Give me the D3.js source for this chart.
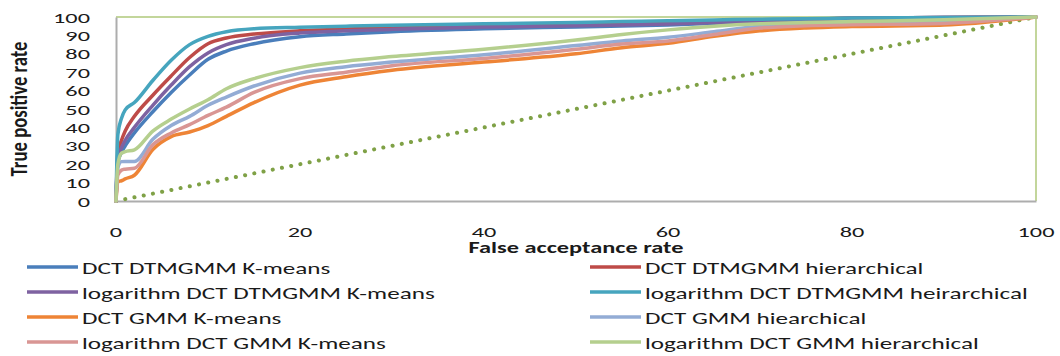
<!DOCTYPE html>
<html>
<head>
<meta charset="utf-8">
<script src="https://cdn.jsdelivr.net/npm/d3@7"></script>
<style>
  html, body { margin: 0; padding: 0; background: #ffffff; }
  svg { display: block; }
  text { font-family: Carlito, Calibri, Lato, "Liberation Sans", sans-serif; fill: #1a1a1a; }
</style>
</head>
<body>
<div id="chart"></div>
<script>
// ---------------- data ----------------
const falseAcceptance = [0, 0.2, 0.6, 1, 2, 4, 6, 8, 10, 12, 15, 20, 25, 30, 40, 50, 55, 60, 65, 70, 75, 80, 90, 100];

const dctDtmgmmKmeans      = [0, 21, 26.5, 30, 37, 48.5, 59, 68.5, 77, 81.5, 85.5, 89.3, 90.8, 92, 93.6, 94.6, 95.1, 95.7, 96.6, 97.7, 98.7, 99.3, 99.7, 100];
const dctDtmgmmHier        = [0, 26, 33, 38, 46, 57.5, 68, 78, 85.5, 88.6, 90.7, 92.5, 93.5, 94.2, 95.3, 96.1, 96.5, 97, 97.6, 98.2, 98.8, 99.3, 99.7, 100];
const logDctDtmgmmKmeans   = [0, 23, 29, 33, 40, 52, 63, 73, 80.5, 85, 88.5, 91.3, 92.5, 93.3, 94.5, 95.3, 95.7, 96.2, 97, 98, 98.8, 99.3, 99.7, 100];
const logDctDtmgmmHeir     = [0, 36, 45, 49.5, 53.5, 65.5, 76.5, 85, 89.5, 92, 93.6, 94.4, 95, 95.5, 96.3, 97, 97.5, 98, 98.4, 98.8, 99.1, 99.4, 99.7, 100];
const dctGmmKmeans         = [0, 10.5, 11, 12, 14, 28, 35, 37.5, 41, 46, 53.5, 63, 67.5, 71, 75.5, 80, 83.3, 85.7, 89.5, 92.5, 94, 94.8, 95.6, 100];
const dctGmmHier           = [0, 18, 21.4, 21.5, 21.5, 33.5, 41, 46, 52, 56.5, 62.5, 69.5, 73, 75.5, 79.5, 84.5, 87, 89, 92, 95, 96, 96.5, 97.5, 100];
const logDctGmmKmeans      = [0, 14, 16.8, 17.3, 17.8, 30.5, 37, 41.5, 46.5, 51, 59, 66.5, 70, 73.5, 77.5, 82.5, 85.3, 87, 90.5, 94, 95.3, 95.8, 96.5, 100];
const logDctGmmHier        = [0, 20, 26, 26.8, 27.8, 38, 44.5, 50, 55, 61, 66.5, 72.5, 76, 78.5, 82.5, 87.5, 90.5, 93, 95, 96.3, 97, 97.5, 98.5, 100];

const seriesNames = [
  "DCT DTMGMM K-means",
  "DCT DTMGMM hierarchical",
  "logarithm DCT DTMGMM K-means",
  "logarithm DCT DTMGMM heirarchical",
  "DCT GMM K-means",
  "DCT GMM hiearchical",
  "logarithm DCT GMM K-means",
  "logarithm DCT GMM hierarchical"
];
const seriesValues = [
  dctDtmgmmKmeans, dctDtmgmmHier, logDctDtmgmmKmeans, logDctDtmgmmHeir,
  dctGmmKmeans, dctGmmHier, logDctGmmKmeans, logDctGmmHier
];
const seriesColors = ["#4A7EBB", "#BE4B48", "#7E62A1", "#46A5BE", "#EE8436", "#93ACD5", "#D99694", "#B5CF8E"];

const chanceX = [0, 100];
const chanceY = [0, 100];

const xTicks = [0, 20, 40, 60, 80, 100];
const yTicks = [0, 10, 20, 30, 40, 50, 60, 70, 80, 90, 100];
const xTitle = "False acceptance rate";
const yTitle = "True positive rate";

// ---------------- layout ----------------
const W = 1060, H = 356;
const plot = { left: 116, right: 1036, top: 17, bottom: 201 };

const svg = d3.select("#chart").append("svg")
  .attr("width", W).attr("height", H)
  .attr("viewBox", `0 0 ${W} ${H}`);

svg.append("rect").attr("width", W).attr("height", H).attr("fill", "#ffffff");

const x = d3.scaleLinear().domain([0, 100]).range([plot.left, plot.right]);
const y = d3.scaleLinear().domain([0, 100]).range([plot.bottom, plot.top]);

function measure(str, size, weight) {
  const t = svg.append("text").attr("font-size", size).attr("font-weight", weight || "normal").text(str);
  const w = t.node().getComputedTextLength();
  t.remove();
  return w;
}

const tickSize = 15;
const tickSx = 37 / measure("100", tickSize);
const legendSize = 17;
const legendSx = 353 / measure("logarithm DCT DTMGMM K-means", legendSize);

// plot frame (top/right light green)
svg.append("path")
  .attr("d", `M${plot.left},${plot.top}H${plot.right}V${plot.bottom}`)
  .attr("fill", "none").attr("stroke", "#C3D69B").attr("stroke-width", 2);

// axes (left/bottom gray)
const xAxis = d3.axisBottom(x).tickValues(xTicks).tickSize(0).tickFormat("");
const yAxis = d3.axisLeft(y).tickValues(yTicks).tickSize(0).tickFormat("");
svg.append("g").attr("transform", `translate(0,${plot.bottom})`).call(xAxis)
  .call(g => g.select(".domain").attr("stroke", "#ADADAD").attr("stroke-width", 2));
svg.append("g").attr("transform", `translate(${plot.left},0)`).call(yAxis)
  .call(g => g.select(".domain").attr("stroke", "#ADADAD").attr("stroke-width", 2));

// tick labels
const xLab = svg.append("g");
xTicks.forEach(v => {
  xLab.append("text")
    .attr("transform", `translate(${x(v)},${237}) scale(${tickSx},1)`)
    .attr("text-anchor", "middle").attr("font-size", tickSize).text(v);
});
const yLab = svg.append("g");
yTicks.forEach(v => {
  yLab.append("text")
    .attr("transform", `translate(90,${y(v) + 5.5}) scale(${tickSx},1)`)
    .attr("text-anchor", "end").attr("font-size", tickSize).text(v);
});

// axis titles
svg.append("text")
  .attr("transform", `translate(${(plot.left + plot.right) / 2},253) scale(${tickSx},1)`)
  .attr("text-anchor", "middle").attr("font-size", 15).attr("font-weight", "bold").text(xTitle);

const yTitleLen = measure(yTitle, 15, "bold");
svg.append("text")
  .attr("transform", `translate(26.5,${(plot.top + plot.bottom) / 2}) rotate(-90) scale(${135 / yTitleLen},${tickSx})`)
  .attr("text-anchor", "middle").attr("font-size", 15).attr("font-weight", "bold").text(yTitle);

// chance diagonal
const chance = chanceX.map((v, i) => [v, chanceY[i]]);
svg.append("path")
  .datum(chance)
  .attr("d", d3.line().x(d => x(d[0])).y(d => y(d[1])))
  .attr("fill", "none").attr("stroke", "#7FA146").attr("stroke-width", 4)
  .attr("stroke-linecap", "round").attr("stroke-dasharray", "0.1 9.3");

// series
const line = d3.line().x(d => x(d[0])).y(d => y(d[1])).curve(d3.curveMonotoneX);
const gSeries = svg.append("g");
seriesValues.forEach((vals, i) => {
  const pts = falseAcceptance.map((fa, j) => [fa, vals[j]]);
  gSeries.append("path").datum(pts)
    .attr("d", line)
    .attr("fill", "none").attr("stroke", seriesColors[i]).attr("stroke-width", 3.5)
    .attr("stroke-linejoin", "round").attr("stroke-linecap", "round");
});

// legend
const leg = svg.append("g");
const colLine = [27, 590];
const colText = [82, 645];
const rowY = [267, 292, 317, 342];
seriesNames.forEach((name, i) => {
  const c = i % 2, r = Math.floor(i / 2);
  leg.append("line")
    .attr("x1", colLine[c]).attr("x2", colLine[c] + 51)
    .attr("y1", rowY[r]).attr("y2", rowY[r])
    .attr("stroke", seriesColors[i]).attr("stroke-width", 3.5);
  leg.append("text")
    .attr("transform", `translate(${colText[c]},${rowY[r] + 7}) scale(${legendSx},1)`)
    .attr("font-size", legendSize).text(name);
});
</script>
</body>
</html>
